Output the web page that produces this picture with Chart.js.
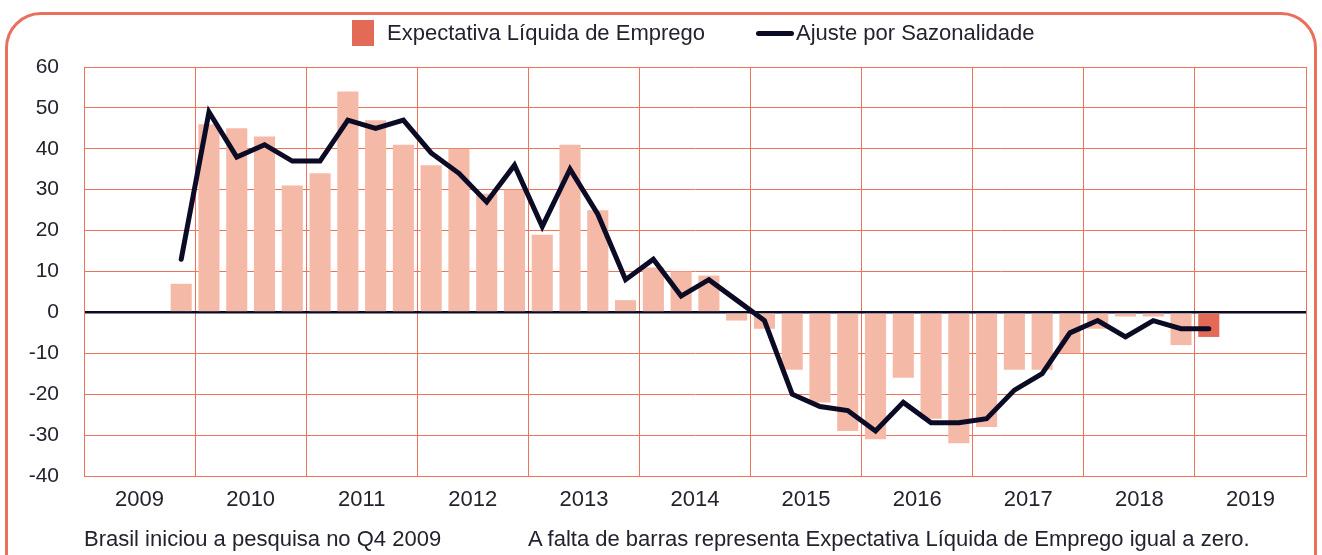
<!DOCTYPE html>
<html lang="pt">
<head>
  <meta charset="UTF-8">
  <title>Expectativa Líquida de Emprego - Brasil</title>
  <script src="https://cdn.jsdelivr.net/npm/chart.js"></script>
  <style>
    body {
      margin: 0;
      background: #fff;
      font-family: 'Liberation Sans', Arial, sans-serif;
      color: #23232f;
    }
    .wrap {
      position: relative;
      width: 1322px;
      height: 555px;
      overflow: hidden;
    }
    .frame {
      position: absolute;
      left: 5px;
      top: 12px;
      width: 1306px;
      height: 590px;
      border: 3px solid #e8705c;
      border-radius: 36px;
    }
    canvas {
      position: absolute;
      left: 0;
      top: 0;
    }
    .legend {
      position: absolute;
      top: 20px;
      font-size: 22px;
      line-height: 26px;
    }
    .legend .box {
      position: absolute;
      width: 22px;
      height: 26px;
      background: #e26a56;
    }
    .legend .seg {
      position: absolute;
      width: 38px;
      height: 5px;
      border-radius: 3px;
      background: #0b0b26;
    }
    .note {
      position: absolute;
      top: 526px;
      font-size: 22px;
      line-height: 26px;
      white-space: nowrap;
    }
  </style>
</head>
<body>
  <div class="wrap">
    <div class="frame"></div>
    <canvas id="chart" width="1322" height="555"></canvas>

    <!-- legenda -->
    <div class="legend" style="left:352px"><span class="box" style="left:0;top:0"></span><span style="position:absolute;left:35px;white-space:nowrap">Expectativa Líquida de Emprego</span></div>
    <div class="legend" style="left:756px"><span class="seg" style="left:0;top:11px"></span><span style="position:absolute;left:40px;white-space:nowrap">Ajuste por Sazonalidade</span></div>

    <!-- notas -->
    <div class="note" style="left:84px">Brasil iniciou a pesquisa no Q4 2009</div>
    <div class="note" style="left:528px">A falta de barras representa Expectativa Líquida de Emprego igual a zero.</div>
  </div>

  <script>
    const years = ['2009', '2010', '2011', '2012', '2013', '2014', '2015', '2016', '2017', '2018', '2019'];
    const quarters = years.flatMap(y => ['Q1 ' + y, 'Q2 ' + y, 'Q3 ' + y, 'Q4 ' + y]);

    // Expectativa Líquida de Emprego (barras)
    const netOutlook = [
      null, null, null, 7,
      46, 45, 43, 31,
      34, 54, 47, 41,
      36, 40, 29, 30,
      19, 41, 25, 3,
      11, 10, 9, -2,
      -4, -14, -22, -29,
      -31, -16, -26, -32,
      -28, -14, -14, -10,
      -4, -1, -1, -8,
      -6, null, null, null
    ];

    // Ajuste por Sazonalidade (linha)
    const seasonal = [
      null, null, null, 13,
      49, 38, 41, 37,
      37, 47, 45, 47,
      39, 34, 27, 36,
      21, 35, 24, 8,
      13, 4, 8, 3,
      -2, -20, -23, -24,
      -29, -22, -27, -27,
      -26, -19, -15, -5,
      -2, -6, -2, -4,
      -4, null, null, null
    ];

    const yTicks = [60, 50, 40, 30, 20, 10, 0, -10, -20, -30, -40];

    const gridRed = '#ec735e';
    const navy = '#0b0b26';
    const lastIdx = 40; // trimestre mais recente
    const barColors = netOutlook.map((v, i) => i === lastIdx ? '#e26a56' : '#f5b9a7');

    const ctx = document.getElementById('chart').getContext('2d');
    new Chart(ctx, {
      type: 'bar',
      data: {
        labels: quarters,
        datasets: [
          {
            type: 'line',
            label: 'Ajuste por Sazonalidade',
            data: seasonal,
            borderColor: navy,
            borderWidth: 5,
            pointRadius: 0,
            tension: 0,
            borderCapStyle: 'round',
            spanGaps: false,
            order: 0
          },
          {
            label: 'Expectativa Líquida de Emprego',
            data: netOutlook,
            backgroundColor: barColors,
            barPercentage: 0.76,
            categoryPercentage: 1,
            order: 1
          }
        ]
      },
      options: {
        responsive: false,
        animation: false,
        layout: { padding: { top: 67, right: 16, bottom: 39, left: 0 } },
        plugins: {
          legend: { display: false },
          tooltip: { enabled: false }
        },
        scales: {
          x: {
            display: false,
            offset: true
          },
          years: {
            type: 'category',
            labels: years,
            position: 'bottom',
            offset: true,
            afterFit: s => { s.height = 40; },
            grid: { offset: true, color: gridRed, lineWidth: 1, drawTicks: false },
            border: { color: gridRed },
            ticks: {
              padding: 11,
              color: '#23232f',
              font: { family: 'Liberation Sans', size: 22 }
            }
          },
          y: {
            min: -40,
            max: 60,
            afterFit: s => { s.width = 84; },
            afterBuildTicks: s => { s.ticks = yTicks.map(v => ({ value: v })); },
            grid: {
              drawTicks: false,
              color: c => c.tick && c.tick.value === 0 ? navy : gridRed,
              lineWidth: c => c.tick && c.tick.value === 0 ? 2.5 : 1
            },
            border: { color: gridRed },
            ticks: {
              padding: 25,
              color: '#23232f',
              font: { family: 'Liberation Sans', size: 21 }
            }
          }
        }
      }
    });
  </script>
</body>
</html>
